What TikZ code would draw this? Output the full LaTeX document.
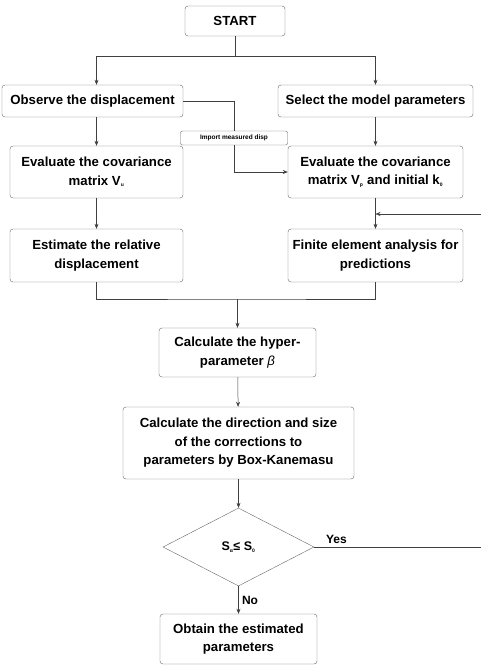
\documentclass[tikz,border=0pt]{standalone}
\usepackage{fontspec}
\setmainfont{Liberation Sans}
\usetikzlibrary{shapes.geometric,arrows.meta}

\begin{document}
\begin{tikzpicture}[x=1pt,y=-1pt,
  flowbox/.style={draw=black!60,rounded corners=3pt,align=center,inner sep=1pt,
    font=\fontsize{13.2}{18.5}\selectfont\bfseries},
  flowline/.style={draw=black!75,line width=0.5pt},
  flowarrow/.style={flowline,-{Stealth[length=5pt,width=4pt]}}]
  \useasboundingbox (0,0) rectangle (481,665);
  \node[flowbox,minimum width=100,minimum height=30] (start) at (235,21) {START};
  \node[flowbox,minimum width=181,minimum height=32] (observe) at (92.5,101) {Observe the displacement};
  \node[flowbox,minimum width=195,minimum height=32] (select) at (375.5,101) {Select the model parameters};
  \node[flowbox,minimum width=173,minimum height=52] (evalu) at (96.5,172)
    {Evaluate the covariance\\matrix V\textsubscript{\tiny u}};
  \node[flowbox,minimum width=175,minimum height=52] (evalp) at (375.5,172)
    {Evaluate the covariance\\matrix V\textsubscript{\tiny p} and initial k\textsubscript{\tiny 0}};
  \node[flowbox,minimum width=173,minimum height=53] (estim) at (96.5,255.5)
    {Estimate the relative\\displacement};
  \node[flowbox,minimum width=175,minimum height=53] (fem) at (375.5,255.5)
    {Finite element analysis for\\predictions};
  \node[flowbox,minimum width=157,minimum height=49] (hyper) at (237.5,352.5)
    {Calculate the hyper-\\parameter \textit{\mdseries β}};
  \node[flowbox,minimum width=231,minimum height=72] (corr) at (238.5,443)
    {Calculate the direction and size\\of the corrections to\\parameters by Box-Kanemasu};
  \node[draw=black!60,shape=diamond,aspect=1.94,minimum width=151,minimum height=78,inner sep=0,
    font=\fontsize{12.5}{14}\selectfont\bfseries] (check) at (238.5,547)
    {S\textsubscript{\tiny α}≤ S\textsubscript{\tiny 0}};
  \node[flowbox,minimum width=157,minimum height=50] (obtain) at (238.5,639)
    {Obtain the estimated\\parameters};
  \node[flowbox,rounded corners=2pt,minimum width=107,minimum height=14,
    font=\fontsize{6.5}{7}\selectfont\bfseries] (import) at (234,138) {Import measured disp};
  \coordinate (split) at (235,56);
  \coordinate (join) at (237.5,299);
  \coordinate (loopin) at (481,214);
  \coordinate (yesend) at (481,547);
  \draw[flowline] (start) -- (split);
  \draw[flowarrow] (split) -| (evalu.north |- observe.north);
  \draw[flowarrow] (split) -| (evalp.north |- select.north);
  \draw[flowarrow] (evalu.north |- observe.south) -- (evalu.north);
  \draw[flowarrow] (evalp.north |- select.south) -- (evalp.north);
  \draw[flowline] (observe.east) -| (import.north);
  \draw[flowarrow] (import.south) |- (evalp.west);
  \draw[flowarrow] (evalu) -- (estim);
  \draw[flowarrow] (evalp) -- (fem);
  \draw[flowarrow] (loopin) -- (evalp.south |- loopin);
  \draw[flowline] (estim.south) |- (join) -| (fem.south);
  \draw[flowarrow] (join) -- (hyper.north);
  \draw[flowarrow] (hyper) -- (corr);
  \draw[flowarrow] (corr) -- (check);
  \draw[flowarrow] (check) -- node[right,font=\fontsize{12}{14}\selectfont\bfseries] {No} (obtain);
  \draw[flowline] (check.east) -- node[pos=0.05,above right,font=\fontsize{12}{14}\selectfont\bfseries] {Yes} (yesend);
\end{tikzpicture}
\end{document}
